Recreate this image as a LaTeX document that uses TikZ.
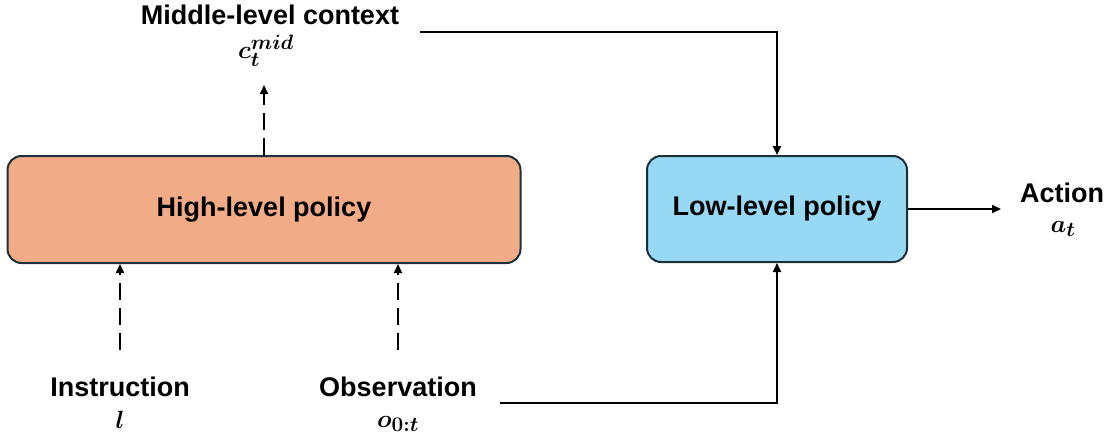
\documentclass[tikz,border=0pt]{standalone}
\usepackage{fontspec}
\usepackage{amsmath}
\usepackage{bm}
\setmainfont{Liberation Sans}
\usetikzlibrary{arrows.meta}
\definecolor{hifill}{HTML}{F1AB86}
\definecolor{lofill}{HTML}{97D9F5}
\definecolor{edge}{HTML}{1C2F3C}
\tikzset{
  policy/.style={draw=edge, line width=2pt, rounded corners=14pt, inner sep=0pt,
    font=\fontsize{27}{32}\selectfont\bfseries},
  lbl/.style={inner sep=0pt, font=\fontsize{27}{32}\selectfont\bfseries},
  sym/.style={inner sep=0pt, font=\fontsize{31}{36}\selectfont},
  tip/.style={-{Triangle[length=9pt,width=8pt]}},
  flow/.style={tip, line width=1.8pt, black},
  hint/.style={tip, line width=1.8pt, black, dash pattern=on 17pt off 8pt},
}
\begin{document}
\begin{tikzpicture}[x=1pt,y=-1pt]
\useasboundingbox (0,0) rectangle (1118,442);

% policy blocks
\node[policy, fill=hifill, minimum width=513pt, minimum height=107pt] (high) at (264,209.5) {High-level policy};
\node[policy, fill=lofill, minimum width=260pt, minimum height=106pt] (low) at (777,209) {Low-level policy};

% labels
\node[lbl] (mid) at (270,15) {Middle-level context};
\node[sym] (cmid) at (266,51) {$\bm{c}_{\bm{t}}^{\bm{mid}}$};
\node[lbl] (instr) at (120,387) {Instruction};
\node[sym] (l) at (120,420) {$\bm{l}$};
\node[lbl] (obs) at (398,387) {Observation};
\node[sym] (o) at (398,424) {$\bm{o}_{\bm{0:t}}$};
\node[lbl] (act) at (1062,193) {Action};
\node[sym] (a) at (1063,229) {$\bm{a}_{\bm{t}}$};

% connector end points
\coordinate (midout) at (264,85);
\coordinate (instrin) at (120,350);
\coordinate (obsin) at (398,350);
\coordinate (midsrc) at (420,32);
\coordinate (obssrc) at (500,403);
\coordinate (actend) at (1001,209);

% dashed hints into and out of the high-level policy
\draw[hint] (high.north -| midout) -- (midout);
\draw[hint] (instrin) -- (instrin |- high.south);
\draw[hint] (obsin) -- (obsin |- high.south);

% solid flows into and out of the low-level policy
\draw[flow] (midsrc) -| (low.north);
\draw[flow] (obssrc) -| (low.south);
\draw[flow] (low.east) -- (actend);
\end{tikzpicture}
\end{document}
